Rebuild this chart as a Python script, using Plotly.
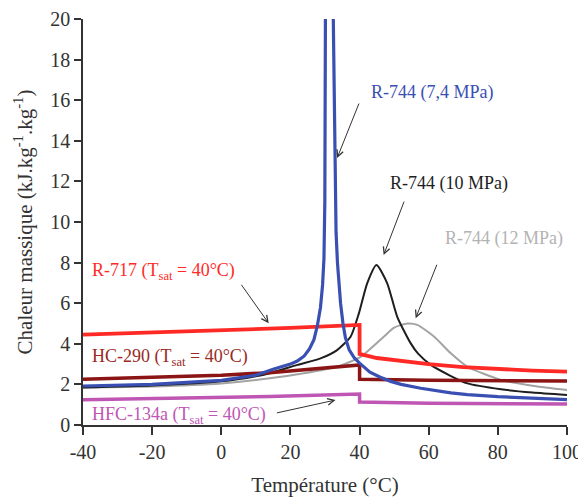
import plotly.graph_objects as go

# ---- data ----
t_co2_74 = [-40, -20, 0, 10, 15, 20, 22, 24, 25.5, 26.8, 27.8, 28.7, 29.3, 29.7, 29.95, 30.1, 31.25,
            32.4, 32.8, 33.2, 33.6, 34.0, 34.5, 35.2, 35.9, 37, 38.5, 40, 43, 46, 49, 52, 57.7, 66.4,
            71.2, 80, 90, 100]
v_co2_74 = [1.92, 2.0, 2.2, 2.45, 2.75, 3.0, 3.15, 3.4, 3.75, 4.2, 4.9, 5.8, 6.9, 8.2, 11.0, 20.0, 80.0,
            20.0, 13.4, 9.5, 8.0, 7.0, 6.0, 5.0, 4.3, 3.7, 3.3, 3.05, 2.6, 2.35, 2.15, 2.0, 1.81, 1.58,
            1.5, 1.4, 1.32, 1.25]

t_co2_10 = [-40, -20, 0, 10, 14, 22, 28.7, 33.5, 37.4, 39.8, 42.2, 44.9, 48, 50.9, 54.8, 57, 60.6,
            66, 71.2, 80.9, 90, 100]
v_co2_10 = [1.85, 1.95, 2.15, 2.4, 2.55, 2.96, 3.28, 3.69, 4.35, 5.5, 6.98, 7.88, 6.98, 5.33, 4.02,
            3.5, 2.96, 2.45, 2.05, 1.76, 1.6, 1.48]

t_co2_12 = [-40, -20, 0, 14, 23.9, 33.5, 40.3, 47, 50, 53.8, 56.7, 61.6, 66.4, 71.2, 80.9, 90.5, 100]
v_co2_12 = [1.85, 1.9, 2.05, 2.3, 2.55, 2.87, 3.36, 4.35, 4.8, 5.0, 4.93, 4.35, 3.53, 2.87, 2.22, 1.92, 1.72]

t_r717 = [-40, 0, 20, 40, 40, 45, 52, 60, 70, 80, 90, 100]
v_r717 = [4.45, 4.65, 4.78, 4.93, 3.5, 3.3, 3.15, 3.0, 2.85, 2.75, 2.68, 2.63]

t_hc290 = [-40, 0, 14, 40, 40, 60, 100]
v_hc290 = [2.25, 2.45, 2.58, 2.96, 2.25, 2.2, 2.17]

t_hfc134a = [-40, 0, 14, 40, 40, 60, 100]
v_hfc134a = [1.25, 1.33, 1.40, 1.53, 1.13, 1.07, 1.03]

x_ticks = [-40, -20, 0, 20, 40, 60, 80, 100]
y_ticks = [0, 2, 4, 6, 8, 10, 12, 14, 16, 18, 20]

C_BLUE = "#3a4fb2"
C_RED = "#ff2a26"
C_DRED = "#8b1414"
C_MAG = "#c056b4"
C_BLACK = "#1e1e1e"
C_GRAY = "#a3a3a3"
FONT = "Liberation Serif"

fig = go.Figure()
fig.add_trace(go.Scatter(x=t_co2_12, y=v_co2_12, mode="lines", line=dict(color=C_GRAY, width=2, shape="spline", smoothing=0.6)))
fig.add_trace(go.Scatter(x=t_co2_10, y=v_co2_10, mode="lines", line=dict(color=C_BLACK, width=2, shape="spline", smoothing=0.6)))
fig.add_trace(go.Scatter(x=t_hfc134a, y=v_hfc134a, mode="lines", line=dict(color=C_MAG, width=3.5)))
fig.add_trace(go.Scatter(x=t_hc290, y=v_hc290, mode="lines", line=dict(color=C_DRED, width=3.5)))
fig.add_trace(go.Scatter(x=t_r717, y=v_r717, mode="lines", line=dict(color=C_RED, width=3.8)))
fig.add_trace(go.Scatter(x=t_co2_74, y=v_co2_74, mode="lines", line=dict(color=C_BLUE, width=3.2)))

labels = [
    ("R-744 (7,4 MPa)", 61.2, 16.4, C_BLUE, "center"),
    ("R-744 (10 MPa)", 65.8, 11.92, C_BLACK, "center"),
    ("R-744 (12 MPa)", 81.7, 9.21, "#b3b3b3", "center"),
    ("R-717 (T<sub>sat</sub> = 40°C)", -38.0, 7.55, C_RED, "left"),
    ("HC-290 (T<sub>sat</sub> = 40°C)", -38.0, 3.35, "#9a2a22", "left"),
    ("HFC-134a (T<sub>sat</sub> = 40°C)", -38.0, 0.45, C_MAG, "left"),
]
for txt, x, y, col, xa in labels:
    fig.add_annotation(x=x, y=y, text=txt, showarrow=False, xanchor=xa, yanchor="middle",
                       font=dict(family=FONT, size=18, color=col))

arrows = [
    (40.0, 15.91, 33.5, 13.15),
    (53.04, 11.08, 46.96, 8.37),
    (62.52, 7.97, 56.23, 5.26),
    (5.51, 6.98, 13.71, 5.01),
    (15.65, 0.58, 33.04, 1.23),
]
for tx, ty, hx, hy in arrows:
    fig.add_annotation(x=hx, y=hy, ax=tx, ay=ty, axref="x", ayref="y", xref="x", yref="y",
                       text="", showarrow=True, arrowhead=5, arrowsize=1.3, arrowwidth=1,
                       arrowcolor="#333333")

fig.update_layout(
    width=578, height=493,
    margin=dict(l=75, r=19, t=11, b=76),
    paper_bgcolor="white", plot_bgcolor="white",
    showlegend=False,
    font=dict(family=FONT, size=20, color="#333333"),
)
fig.update_xaxes(range=[-40, 100], tickvals=x_ticks, ticktext=[str(v) for v in x_ticks],
                 automargin=False,
                 showgrid=False, zeroline=False, showline=True, linecolor="#333333", linewidth=1.5,
                 ticks="outside", ticklen=8, tickcolor="#333333", tickwidth=1.5,
                 title=dict(text="Température (°C)", font=dict(size=21, family=FONT, color="#333333"), standoff=16))
fig.update_yaxes(range=[0, 20], tickvals=y_ticks, ticktext=[str(v) for v in y_ticks],
                 automargin=False,
                 showgrid=False, zeroline=False, showline=True, linecolor="#333333", linewidth=1.5,
                 ticks="outside", ticklen=7, tickcolor="#333333", tickwidth=1.5,
                 title=dict(text="Chaleur massique (kJ.kg<sup>-1</sup>.kg<sup>-1</sup>)",
                            font=dict(size=21, family=FONT, color="#333333"), standoff=12))

fig.write_html("out.html")
